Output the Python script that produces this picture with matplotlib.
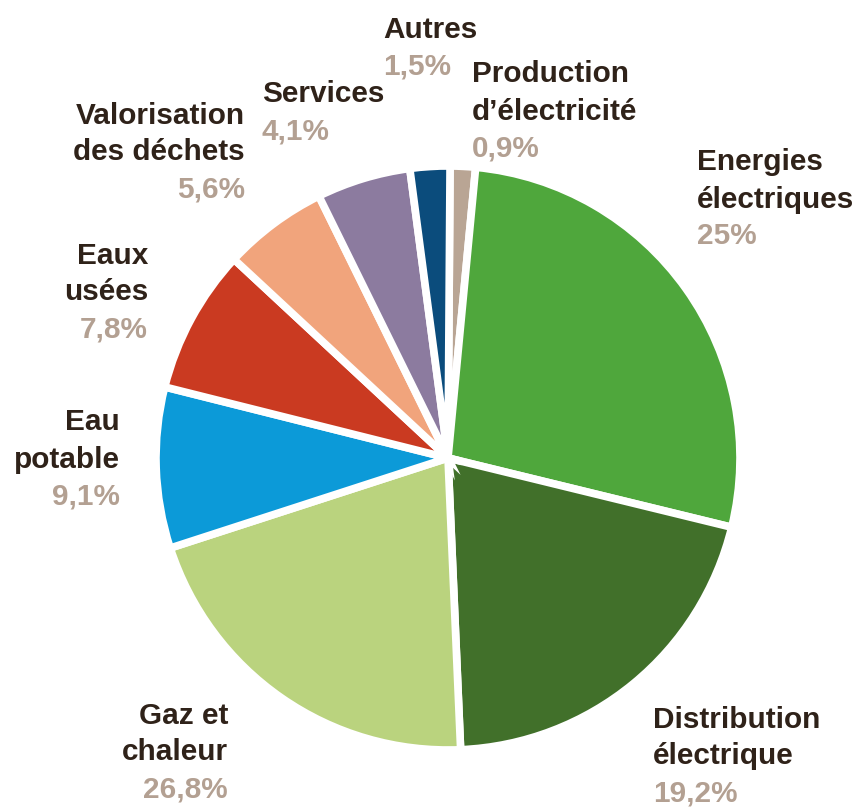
import matplotlib
matplotlib.use('Agg')
import matplotlib.pyplot as plt

# slices in drawing order, clockwise from the top
labels = [["Production", "d\u2019électricité"],
          ["Energies", "électriques"],
          ["Distribution", "électrique"],
          ["Gaz et", "chaleur"],
          ["Eau", "potable"],
          ["Eaux", "usées"],
          ["Valorisation", "des déchets"],
          ["Services"],
          ["Autres"]]
pct_text = ["0,9%", "25%", "19,2%", "26,8%", "9,1%", "7,8%", "5,6%", "4,1%", "1,5%"]
# angular share of each slice as it is drawn in the source (%)
drawn = [1.4, 27.3, 20.5, 20.7, 8.9, 8.0, 5.8, 5.2, 2.2]
colors = ['#b9a594', '#4fa73c', '#41702a', '#bad37e', '#0c9ad8',
          '#ca3a21', '#f1a47c', '#8c7b9f', '#0b4c7c']

# label placement in pixels: (x, y of first line centre, alignment)
label_pos = [(472, 72, 'left'), (697, 160, 'left'), (653, 717, 'left'),
             (228, 713, 'right'), (120, 420, 'right'), (148, 253, 'right'),
             (245, 113, 'right'), (262, 92, 'left'), (383, 27, 'left')]

W, H = 864, 808
dark = '#2f2219'
tan = '#b3a092'

fig = plt.figure(figsize=(W / 100, H / 100), dpi=100)
ax = fig.add_axes([0, 0, 1, 1])
ax.set_xlim(0, W)
ax.set_ylim(0, H)
ax.set_aspect('equal')
ax.axis('off')

ax.pie(drawn, colors=colors, startangle=89.6, counterclock=False,
       center=(448, H - 458), radius=292,
       wedgeprops=dict(edgecolor='white', linewidth=5.5))

font = dict(family=['Liberation Sans', 'DejaVu Sans'], fontweight='bold',
            fontsize=21.4)
step = 37
for lines, p, (x, y, ha) in zip(labels, pct_text, label_pos):
    for i, line in enumerate(lines + [p]):
        col = tan if i == len(lines) else dark
        ax.text(x, H - (y + i * step + 10.5), line, ha=ha, va='baseline',
                color=col, **font)

ax.set_xlim(0, W)
ax.set_ylim(0, H)
fig.savefig('out.png', dpi=100, facecolor='white')
